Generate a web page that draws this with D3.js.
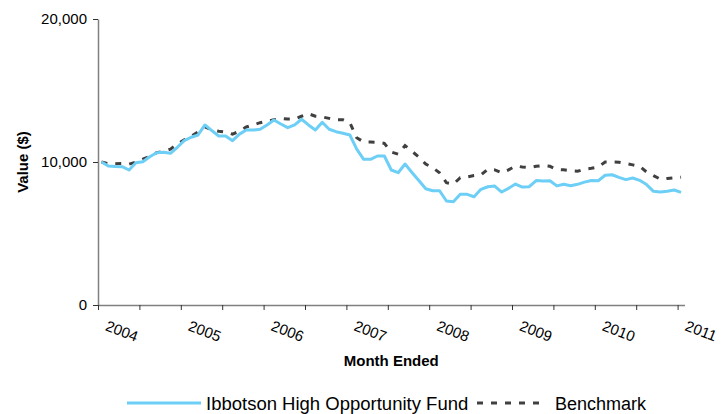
<!DOCTYPE html>
<html><head><meta charset="utf-8">
<script src="https://cdn.jsdelivr.net/npm/d3@7"></script>
<style>
body{margin:0;background:#fff;}
svg{display:block;font-family:"Liberation Sans",Arial,sans-serif;}
</style>
</head><body>
<svg id="chart" width="723" height="414"></svg>
<script>
// Monthly values, Dec 2003 .. Dec 2010 (85 months)
const fundValues = [
  10000, 9720, 9680, 9670, 9440, 9950, 10020, 10370, 10650, 10680,
  10610, 11030, 11490, 11730, 11890, 12590, 12190, 11820, 11820, 11490,
  11950, 12240, 12240, 12290, 12590, 12940, 12660, 12400, 12590, 12990,
  12590, 12240, 12780, 12290, 12120, 12010, 11890, 10900, 10190, 10190,
  10420, 10420, 9440, 9250, 9860, 9270, 8700, 8130, 7990, 7990,
  7270, 7220, 7740, 7740, 7570, 8090, 8270, 8320, 7900, 8160,
  8460, 8250, 8270, 8700, 8670, 8690, 8330, 8440, 8340, 8440,
  8590, 8710, 8690, 9070, 9110, 8930, 8770, 8880, 8720, 8420,
  7950, 7900, 7950, 8040, 7880
];
const benchmarkValues = [
  10000, 9880, 9880, 9900, 9850, 10000, 10200, 10400, 10650, 10750,
  10900, 11250, 11550, 11800, 12100, 12450, 12250, 12150, 12100, 11950,
  12150, 12450, 12600, 12750, 12850, 12950, 13050, 13000, 13000, 13200,
  13380, 13200, 13150, 13050, 12950, 12950, 12750, 11700, 11400, 11400,
  11380, 11300, 10700, 10550, 11150, 10750, 10350, 9850, 9600, 9250,
  8550, 8450, 8900, 8950, 9050, 9100, 9500, 9450, 9250, 9450,
  9720, 9650, 9600, 9700, 9750, 9700, 9480, 9450, 9380, 9350,
  9500, 9560, 9650, 10000, 10000, 9980, 9900, 9800, 9700, 9300,
  9050, 8800, 8850, 8900, 8930
];
const yearLabels = ["2004", "2005", "2006", "2007", "2008", "2009", "2010", "2011"];
const yTickValues = [0, 10000, 20000];
const seriesNames = ["Ibbotson High Opportunity Fund", "Benchmark"];
const yTitle = "Value ($)";
const xTitle = "Month Ended";

const fundColor = "#6dcff6";
const benchColor = "#404040";

const svg = d3.select("#chart");
const x = d3.scaleLinear().domain([0, fundValues.length]).range([98, 684.5]);
const y = d3.scaleLinear().domain([0, 20000]).range([305, 19]);

// Y axis
const yAxis = d3.axisLeft(y).tickValues(yTickValues).tickSize(5).tickSizeOuter(0).tickPadding(6)
  .tickFormat(d3.format(","));
const gy = svg.append("g").attr("transform", `translate(${x(0)},0)`).call(yAxis);
gy.select(".domain").attr("stroke", "#808080").attr("stroke-width", 1.5);
gy.selectAll(".tick line").attr("stroke", "#333");
gy.selectAll(".tick text").attr("font-size", 15).attr("fill", "#000")
  .attr("font-family", "Liberation Sans, Arial, sans-serif");

// X axis
const tickIdx = d3.range(0, fundValues.length, 6);
const xAxis = d3.axisBottom(x).tickValues(tickIdx).tickSize(5).tickSizeOuter(0)
  .tickFormat(d => d % 12 === 0 ? yearLabels[d / 12] : "");
const gx = svg.append("g").attr("transform", `translate(0,${y(0)})`).call(xAxis);
gx.select(".domain").attr("stroke", "#808080").attr("stroke-width", 1.5);
gx.selectAll(".tick line").attr("stroke", "#333");
gx.selectAll(".tick text")
  .attr("font-size", 15).attr("fill", "#000")
  .attr("font-family", "Liberation Sans, Arial, sans-serif")
  .attr("text-anchor", "start")
  .attr("x", 0).attr("y", 0).attr("dy", 0)
  .attr("transform", "translate(6,25) rotate(21)");

// Lines
const line = d3.line().x((d, i) => x(i + 0.5)).y(d => y(d));
svg.append("path").datum(benchmarkValues)
  .attr("fill", "none").attr("stroke", benchColor).attr("stroke-width", 3)
  .attr("stroke-dasharray", "6,8").attr("d", line);
svg.append("path").datum(fundValues)
  .attr("fill", "none").attr("stroke", fundColor).attr("stroke-width", 3)
  .attr("stroke-linejoin", "round").attr("d", line);

// Axis titles
svg.append("text").attr("transform", `translate(22,${y(10000)}) rotate(-90)`)
  .attr("text-anchor", "middle").attr("dominant-baseline", "central")
  .attr("font-size", 15).attr("font-weight", "bold").text(yTitle);
svg.append("text").attr("x", (x(0) + x(fundValues.length)) / 2).attr("y", 366)
  .attr("text-anchor", "middle").attr("font-size", 15).attr("font-weight", "bold").text(xTitle);

// Legend
const lg = svg.append("g");
lg.append("line").attr("x1", 127).attr("x2", 201).attr("y1", 403).attr("y2", 403)
  .attr("stroke", fundColor).attr("stroke-width", 3);
lg.append("text").attr("x", 206).attr("y", 409.5).attr("font-size", 18.5).text(seriesNames[0]);
lg.append("line").attr("x1", 477).attr("x2", 546).attr("y1", 403).attr("y2", 403)
  .attr("stroke", benchColor).attr("stroke-width", 3).attr("stroke-dasharray", "6,8");
lg.append("text").attr("x", 555).attr("y", 409.5).attr("font-size", 18).text(seriesNames[1]);
</script>
</body></html>
